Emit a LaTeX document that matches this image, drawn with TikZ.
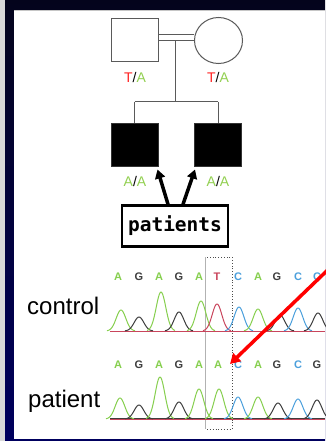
\documentclass[tikz,border=0pt]{standalone}
\usepackage{fontspec}
\setmainfont{Liberation Sans}
\newfontfamily\boxfont{DejaVu Sans Mono}
\usetikzlibrary{arrows.meta,shapes.geometric}

\definecolor{navytop}{HTML}{04041C}
\definecolor{navybot}{HTML}{00005E}
\definecolor{pedline}{HTML}{5A5A5A}
\definecolor{alleleT}{HTML}{FF2020}
\definecolor{alleleA}{HTML}{92D050}
\definecolor{baseA}{HTML}{86CF4E}
\definecolor{baseG}{HTML}{3E3E3E}
\definecolor{baseT}{HTML}{C9455C}
\definecolor{baseC}{HTML}{4A9FDC}

% one chromatogram peak: colour, centre x, top y, baseline y
\newcommand\dnapeak[4]{%
  \pgfmathsetmacro\pkfrom{#2-14}\pgfmathsetmacro\pkto{#2+14}%
  \draw[trace,#1] plot[domain=\pkfrom:\pkto,samples=35,smooth]
    (\x,{#4-(#4-#3)*exp(-0.5*((\x-#2)/4.8)^2)});}

\tikzset{
  ped/.style={draw=pedline,line width=1pt},
  person/.style={ped,minimum width=47pt,minimum height=43pt,inner sep=0pt},
  affected/.style={person,fill=black,draw=black!80},
  allele/.style={font=\fontsize{14}{16}\selectfont,inner sep=0pt},
  pointer/.style={line width=3.5pt,-{Triangle[length=9pt,width=10pt]}},
  trace/.style={line width=1pt,line join=round},
  baselabel/.style={font=\fontsize{11}{12}\selectfont\bfseries,inner sep=0pt},
  rowlabel/.style={font=\fontsize{24}{28}\selectfont,inner sep=0pt,anchor=base west},
}

\begin{document}
\begin{tikzpicture}[x=1pt,y=-1pt]
\useasboundingbox (0,0) rectangle (325,441);

% slide frame
\shade[top color=navytop,bottom color=navybot] (0,0) rectangle (325,441);
\fill[gray!30] (0,0) rectangle (4.5,441);
\fill[white] (14,11) rectangle (325,439);
\draw[gray!45,line width=1pt] (14,10.5) -- (325,10.5);

% pedigree
\node[person] (father) at (134.5,40.5) {};
\node[ped,ellipse,minimum width=48pt,minimum height=46pt,inner sep=0pt] (mother) at (218.5,40.5) {};
\draw[ped] ([yshift=6pt]father.east) -- ([yshift=6pt]father.east -| mother.west);
\draw[ped] (father.east) -- (father.east -| mother.west);
\coordinate (drop) at (175,40.5);
\coordinate (sib) at (175,102);
\node[affected] (kid1) at (134.5,144.5) {};
\node[affected] (kid2) at (218,144.5) {};
\draw[ped] (drop) -- (sib);
\draw[ped] (kid1.north |- sib) -- (kid2.north |- sib);
\draw[ped] (kid1.north |- sib) -- (kid1.north);
\draw[ped] (kid2.north |- sib) -- (kid2.north);

\node[allele] (gf) at (135,77) {\textcolor{alleleT}{T}/\textcolor{alleleA}{A}};
\node[allele] (gm) at (218,77) {\textcolor{alleleT}{T}/\textcolor{alleleA}{A}};
\node[allele] (g1) at (135,181) {\textcolor{alleleA}{A}/\textcolor{alleleA}{A}};
\node[allele] (g2) at (218,181) {\textcolor{alleleA}{A}/\textcolor{alleleA}{A}};

% patients label
\node[draw,line width=2.5pt,fill=white,minimum width=106pt,minimum height=41pt,inner sep=0pt,
      font=\boxfont\bfseries\fontsize{19.5}{22}\selectfont] (patbox) at (175,226) {patients};
\draw[pointer] ([xshift=-7pt]patbox.north) -- ([shift={(-1,3)}]kid1.south east);
\draw[pointer] ([xshift=8pt]patbox.north) -- ([shift={(1,3)}]kid2.south west);

% highlighted position
\coordinate (boxtl) at (205.5,257);
\coordinate (boxbr) at (232,429);
\draw[black!70,dotted,line width=0.8pt] (boxtl) rectangle (boxbr);
\draw[gray!60,line width=1.2pt] (boxtl) -- (boxtl |- boxbr);

% row labels
\node[rowlabel] (lblc) at (27,314) {control};
\node[rowlabel] (lblp) at (28,407) {patient};

% base calls
\foreach \b/\px [count=\i] in {A/118,G/139,A/159,G/179,A/199,T/217,C/238,A/258,G/277,C/298,C/317}
  \node[baselabel,text=base\b] (cb\i) at (\px,277) {\b};
\foreach \b/\px [count=\i] in {A/118,G/139,A/159,G/179,A/199,A/218,C/238,A/258,G/277,C/298,G/317}
  \node[baselabel,text=base\b] (pb\i) at (\px,365) {\b};

% control trace
\draw[trace,baseC] (110,331) -- (325,331);
\draw[trace,baseT] (110,331.8) -- (325,331.8);
\foreach \c/\pc/\pt in {baseA/121/310,baseG/139/317,baseA/161/292,baseG/179/312,baseA/201/301,
                       baseT/217/304,baseC/239/307,baseA/258/309,baseG/280/315,baseC/298/308,baseG/318/313}
  {\dnapeak{\c}{\pc}{\pt}{331}}

% patient trace
\draw[trace,baseG] (110,418.6) -- (325,418.6);
\draw[trace,baseT] (110,419.4) -- (325,419.4);
\foreach \c/\pc/\pt in {baseA/120/398,baseG/139/405,baseA/160/377,baseG/179/402,baseA/199/389,
                       baseA/219/389,baseC/238/397,baseA/258/397,baseG/278/403,baseC/298/399,baseG/317/400}
  {\dnapeak{\c}{\pc}{\pt}{419}}

% mutation pointer
\coordinate (redfrom) at (336,262);
\coordinate (redto) at (230,364);
\draw[red,line width=3.5pt,-{Triangle[length=10pt,width=11pt]}] (redfrom) -- (redto);
\end{tikzpicture}
\end{document}
